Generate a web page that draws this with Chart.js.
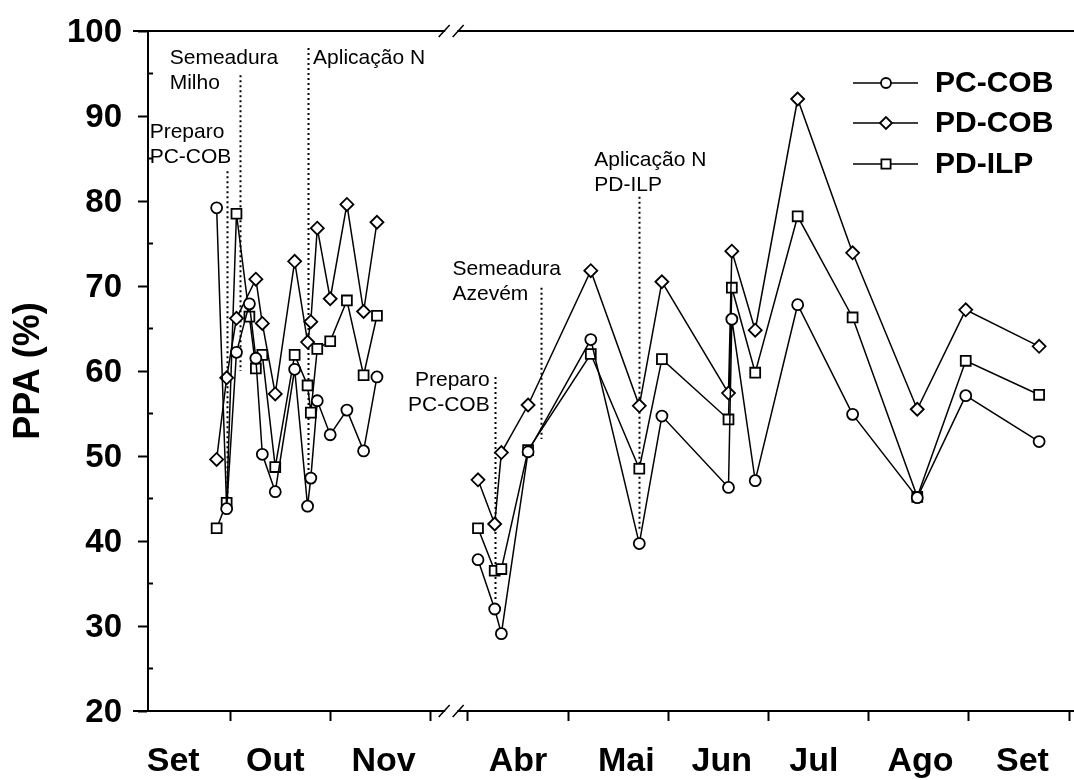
<!DOCTYPE html>
<html>
<head>
<meta charset="utf-8">
<script src="https://cdn.jsdelivr.net/npm/chart.js@4.4.1/dist/chart.umd.min.js"></script>
<style>
  html, body { margin: 0; padding: 0; background: #fff; }
  #wrap { width: 1074px; height: 780px; }
</style>
</head>
<body>
<div id="wrap"><canvas id="grafico"></canvas></div>
<script>
// Datas de coleta (dd/mm): periodo 1 = Set-Nov, periodo 2 = Abr-Set (apos a quebra do eixo)
const datasP1 = ['27/09','30/09','03/10','07/10','09/10','11/10','15/10','21/10','25/10','26/10','28/10','01/11','06/11','11/11','15/11'];
const datasP2 = ['04/04','09/04','11/04','19/04','08/05','23/05','30/05','19/06','20/06','27/06','10/07','27/07','16/08','31/08','22/09'];

// PPA (%) por tratamento
const pcCobP1 = [79.2, 43.8, 62.2, 67.9, 61.5, 50.2, 45.8, 60.2, 44.1, 47.4, 56.5, 52.5, 55.4, 50.6, 59.3];
const pdCobP1 = [49.6, 59.2, 66.2, null, 70.8, 65.6, 57.3, 72.9, 63.4, 65.8, 76.8, 68.5, 79.6, 67.0, 77.5];
const pdIlpP1 = [41.5, 44.5, 78.5, 66.4, 60.3, 61.9, 48.7, 61.9, 58.3, 55.1, 62.6, 63.5, 68.3, 59.5, 66.5];

const pcCobP2 = [37.8, 32.0, 29.1, 50.5, 63.7, 39.7, 54.7, 46.3, 66.1, 47.1, 67.8, 54.9, 45.1, 57.1, 51.7];
const pdCobP2 = [47.2, 42.0, 50.4, 56.0, 71.8, 55.9, 70.5, 57.4, 74.1, 64.8, 92.0, 73.9, 55.5, 67.2, 62.9];
const pdIlpP2 = [41.5, 36.5, 36.7, 50.7, 62.0, 48.5, 61.4, 54.3, 69.8, 59.8, 78.2, 66.3, 45.2, 61.2, 57.2];

// rotulos do eixo x
const mesesP1 = ['Set', 'Out', 'Nov'];
const posMesesP1 = ['14/09', '15/10', '17/11'];
const mesesP2 = ['Abr', 'Mai', 'Jun', 'Jul', 'Ago', 'Set'];
const posMesesP2 = ['16/04', '19/05', '17/06', '15/07', '17/08', '17/09'];
const divisoesP1 = ['01/10', '01/11', '01/12'];
const divisoesP2 = ['01/04', '01/05', '01/06', '01/07', '01/08', '01/09', '01/10'];

const rotulosY = [20, 30, 40, 50, 60, 70, 80, 90, 100];

// posicao no eixo (em meses); o periodo 2 comeca logo apos a quebra
const inicioMes = {
  1: {9: 0, 10: 1, 11: 2, 12: 3},
  2: {4: 3.375, 5: 4.375, 6: 5.375, 7: 6.375, 8: 7.375, 9: 8.375, 10: 9.375}
};
const diasMes = {4: 30, 5: 31, 6: 30, 7: 31, 8: 31, 9: 30, 10: 31, 11: 30, 12: 31};

function posicao(data, periodo) {
  const [d, m] = data.split('/').map(Number);
  return inicioMes[periodo][m] + (d - 1) / diasMes[m];
}

function pontos(v1, v2) {
  const out = [];
  datasP1.forEach((d, i) => { if (v1[i] !== null) out.push({x: posicao(d, 1), y: v1[i]}); });
  out.push({x: 3.2, y: null}); // quebra do eixo
  datasP2.forEach((d, i) => { if (v2[i] !== null) out.push({x: posicao(d, 2), y: v2[i]}); });
  return out;
}

const ticksX = [];
mesesP1.forEach((m, i) => ticksX.push({value: posicao(posMesesP1[i], 1), label: m}));
mesesP2.forEach((m, i) => ticksX.push({value: posicao(posMesesP2[i], 2), label: m}));
divisoesP1.forEach(d => ticksX.push({value: posicao(d, 1), label: ''}));
divisoesP2.forEach(d => ticksX.push({value: posicao(d, 2), label: ''}));
ticksX.sort((a, b) => a.value - b.value);

const anotacoes = [
  {data: '30/09', p: 1, de: 83.5, ate: 44.5, texto: ['Preparo', 'PC-COB'], dx: -77, y: 87.4},
  {data: '04/10', p: 1, de: 94.8, ate: 60, texto: ['Semeadura', 'Milho'], dx: -70, y: 96.1},
  {data: '25/10', p: 1, de: 98, ate: 47, texto: ['Aplicação N'], dx: 5.5, y: 96.1},
  {data: '09/04', p: 2, de: 59.3, ate: 33, texto: ['Preparo', 'PC-COB'], dx: -5, y: 58.2, alinhar: 'right'},
  {data: '23/04', p: 2, de: 69.8, ate: 52, texto: ['Semeadura', 'Azevém'], dx: -89, y: 71.3},
  {data: '23/05', p: 2, de: 80.5, ate: 41.3, texto: ['Aplicação N', 'PD-ILP'], dx: -45, y: 84.1}
];

const FONTE = "'Liberation Sans', Arial, sans-serif";

const series = [
  {label: 'PC-COB', data: pontos(pcCobP1, pcCobP2), estilo: 'circle', raio: 5.5},
  {label: 'PD-COB', data: pontos(pdCobP1, pdCobP2), estilo: 'rectRot', raio: 6.5},
  {label: 'PD-ILP', data: pontos(pdIlpP1, pdIlpP2), estilo: 'rect', raio: 7}
];

const extras = {
  id: 'extras',
  beforeDatasetsDraw(chart) {
    const ctx = chart.ctx, xs = chart.scales.x, ys = chart.scales.y;
    ctx.save();
    ctx.strokeStyle = '#000';
    ctx.fillStyle = '#000';
    ctx.lineWidth = 2;
    ctx.setLineDash([2, 3]);
    anotacoes.forEach(a => {
      const x = Math.round(xs.getPixelForValue(posicao(a.data, a.p))) + 0.5;
      ctx.beginPath();
      ctx.moveTo(x, ys.getPixelForValue(a.de));
      ctx.lineTo(x, ys.getPixelForValue(a.ate));
      ctx.stroke();
    });
    ctx.setLineDash([]);
    ctx.font = '21px ' + FONTE;
    ctx.textBaseline = 'alphabetic';
    anotacoes.forEach(a => {
      const x = xs.getPixelForValue(posicao(a.data, a.p)) + a.dx;
      const y0 = ys.getPixelForValue(a.y);
      ctx.textAlign = a.alinhar || 'left';
      a.texto.forEach((t, i) => ctx.fillText(t, x, y0 + i * 25));
    });
    ctx.restore();
  },
  afterDraw(chart) {
    const ctx = chart.ctx, area = chart.chartArea, xs = chart.scales.x, ys = chart.scales.y;
    ctx.save();
    ctx.strokeStyle = '#000';
    ctx.lineWidth = 2;
    // linha superior e prolongamentos das bordas
    ctx.beginPath();
    ctx.moveTo(area.left - 15, area.top);
    ctx.lineTo(area.right, area.top);
    ctx.moveTo(area.left - 15, area.bottom);
    ctx.lineTo(area.left, area.bottom);
    ctx.stroke();
    // marcas menores do eixo y (para dentro)
    ctx.beginPath();
    for (let v = 25; v < 100; v += 10) {
      const y = ys.getPixelForValue(v);
      ctx.moveTo(area.left, y);
      ctx.lineTo(area.left + 5, y);
    }
    ctx.stroke();
    // quebras do eixo
    const cx = (xs.getPixelForValue(3) + xs.getPixelForValue(3.375)) / 2 + 2;
    [area.top, area.bottom].forEach(y => {
      ctx.fillStyle = '#fff';
      ctx.fillRect(cx - 6, y - 2, 12, 4);
      ctx.lineWidth = 1.5;
      ctx.beginPath();
      [-7, 7].forEach(d => {
        ctx.moveTo(cx + d - 5.5, y + 6);
        ctx.lineTo(cx + d + 5.5, y - 6);
      });
      ctx.stroke();
    });
    // legenda
    const linhas = [83, 123, 164];
    series.forEach((s, i) => {
      const y = linhas[i];
      ctx.lineWidth = 1.5;
      ctx.strokeStyle = '#000';
      ctx.beginPath();
      ctx.moveTo(853, y);
      ctx.lineTo(918, y);
      ctx.stroke();
      ctx.fillStyle = '#fff';
      ctx.lineWidth = 1.8;
      Chart.helpers.drawPoint(ctx, {pointStyle: s.estilo, radius: s.raio - 0.5, borderWidth: 1.8, rotation: 0}, 886, y);
      ctx.fillStyle = '#000';
      ctx.font = 'bold 30px ' + FONTE;
      ctx.textAlign = 'left';
      ctx.textBaseline = 'middle';
      ctx.fillText(s.label, 935, y + 1);
    });
    ctx.restore();
  }
};

new Chart(document.getElementById('grafico'), {
  type: 'line',
  data: {
    datasets: series.map(s => ({
      label: s.label,
      data: s.data,
      borderColor: '#000',
      borderWidth: 1.5,
      tension: 0,
      spanGaps: false,
      pointStyle: s.estilo,
      pointRadius: s.raio,
      pointHoverRadius: s.raio,
      pointBackgroundColor: '#fff',
      pointBorderColor: '#000',
      pointBorderWidth: 1.8
    }))
  },
  options: {
    responsive: true,
    maintainAspectRatio: false,
    animation: false,
    clip: false,
    layout: { autoPadding: false, padding: { top: 31, right: 0, bottom: 0, left: 0 } },
    plugins: {
      legend: { display: false },
      tooltip: { enabled: false }
    },
    scales: {
      x: {
        type: 'linear',
        min: 0.1816,
        max: 9.4232,
        afterBuildTicks: s => { s.ticks = ticksX.map(t => ({value: t.value})); },
        afterFit: s => { s.height = 69; s.paddingLeft = 0; s.paddingRight = 0; },
        grid: {
          drawOnChartArea: false,
          tickLength: 10,
          tickWidth: 2,
          tickColor: c => (ticksX[c.index] && ticksX[c.index].label) ? 'rgba(0,0,0,0)' : '#000'
        },
        border: { color: '#000', width: 2 },
        ticks: {
          autoSkip: false,
          maxRotation: 0,
          padding: 20,
          color: '#000',
          font: { family: FONTE, size: 34, weight: 'bold' },
          callback: (v, i) => ticksX[i] ? ticksX[i].label : ''
        }
      },
      y: {
        min: 20,
        max: 100,
        afterBuildTicks: s => { s.ticks = rotulosY.map(v => ({value: v})); },
        afterFit: s => { s.width = 148; s.paddingTop = 0; s.paddingBottom = 0; },
        grid: { drawOnChartArea: false, tickLength: 10, tickWidth: 2, tickColor: '#000' },
        border: { color: '#000', width: 2 },
        ticks: {
          padding: 16,
          labelOffset: 2,
          color: '#000',
          font: { family: FONTE, size: 33, weight: 'bold' }
        },
        title: {
          display: true,
          text: 'PPA (%)',
          color: '#000',
          font: { family: FONTE, size: 36, weight: 'bold' },
          padding: { top: 7, bottom: 0 }
        }
      }
    }
  },
  plugins: [extras]
});
</script>
</body>
</html>
